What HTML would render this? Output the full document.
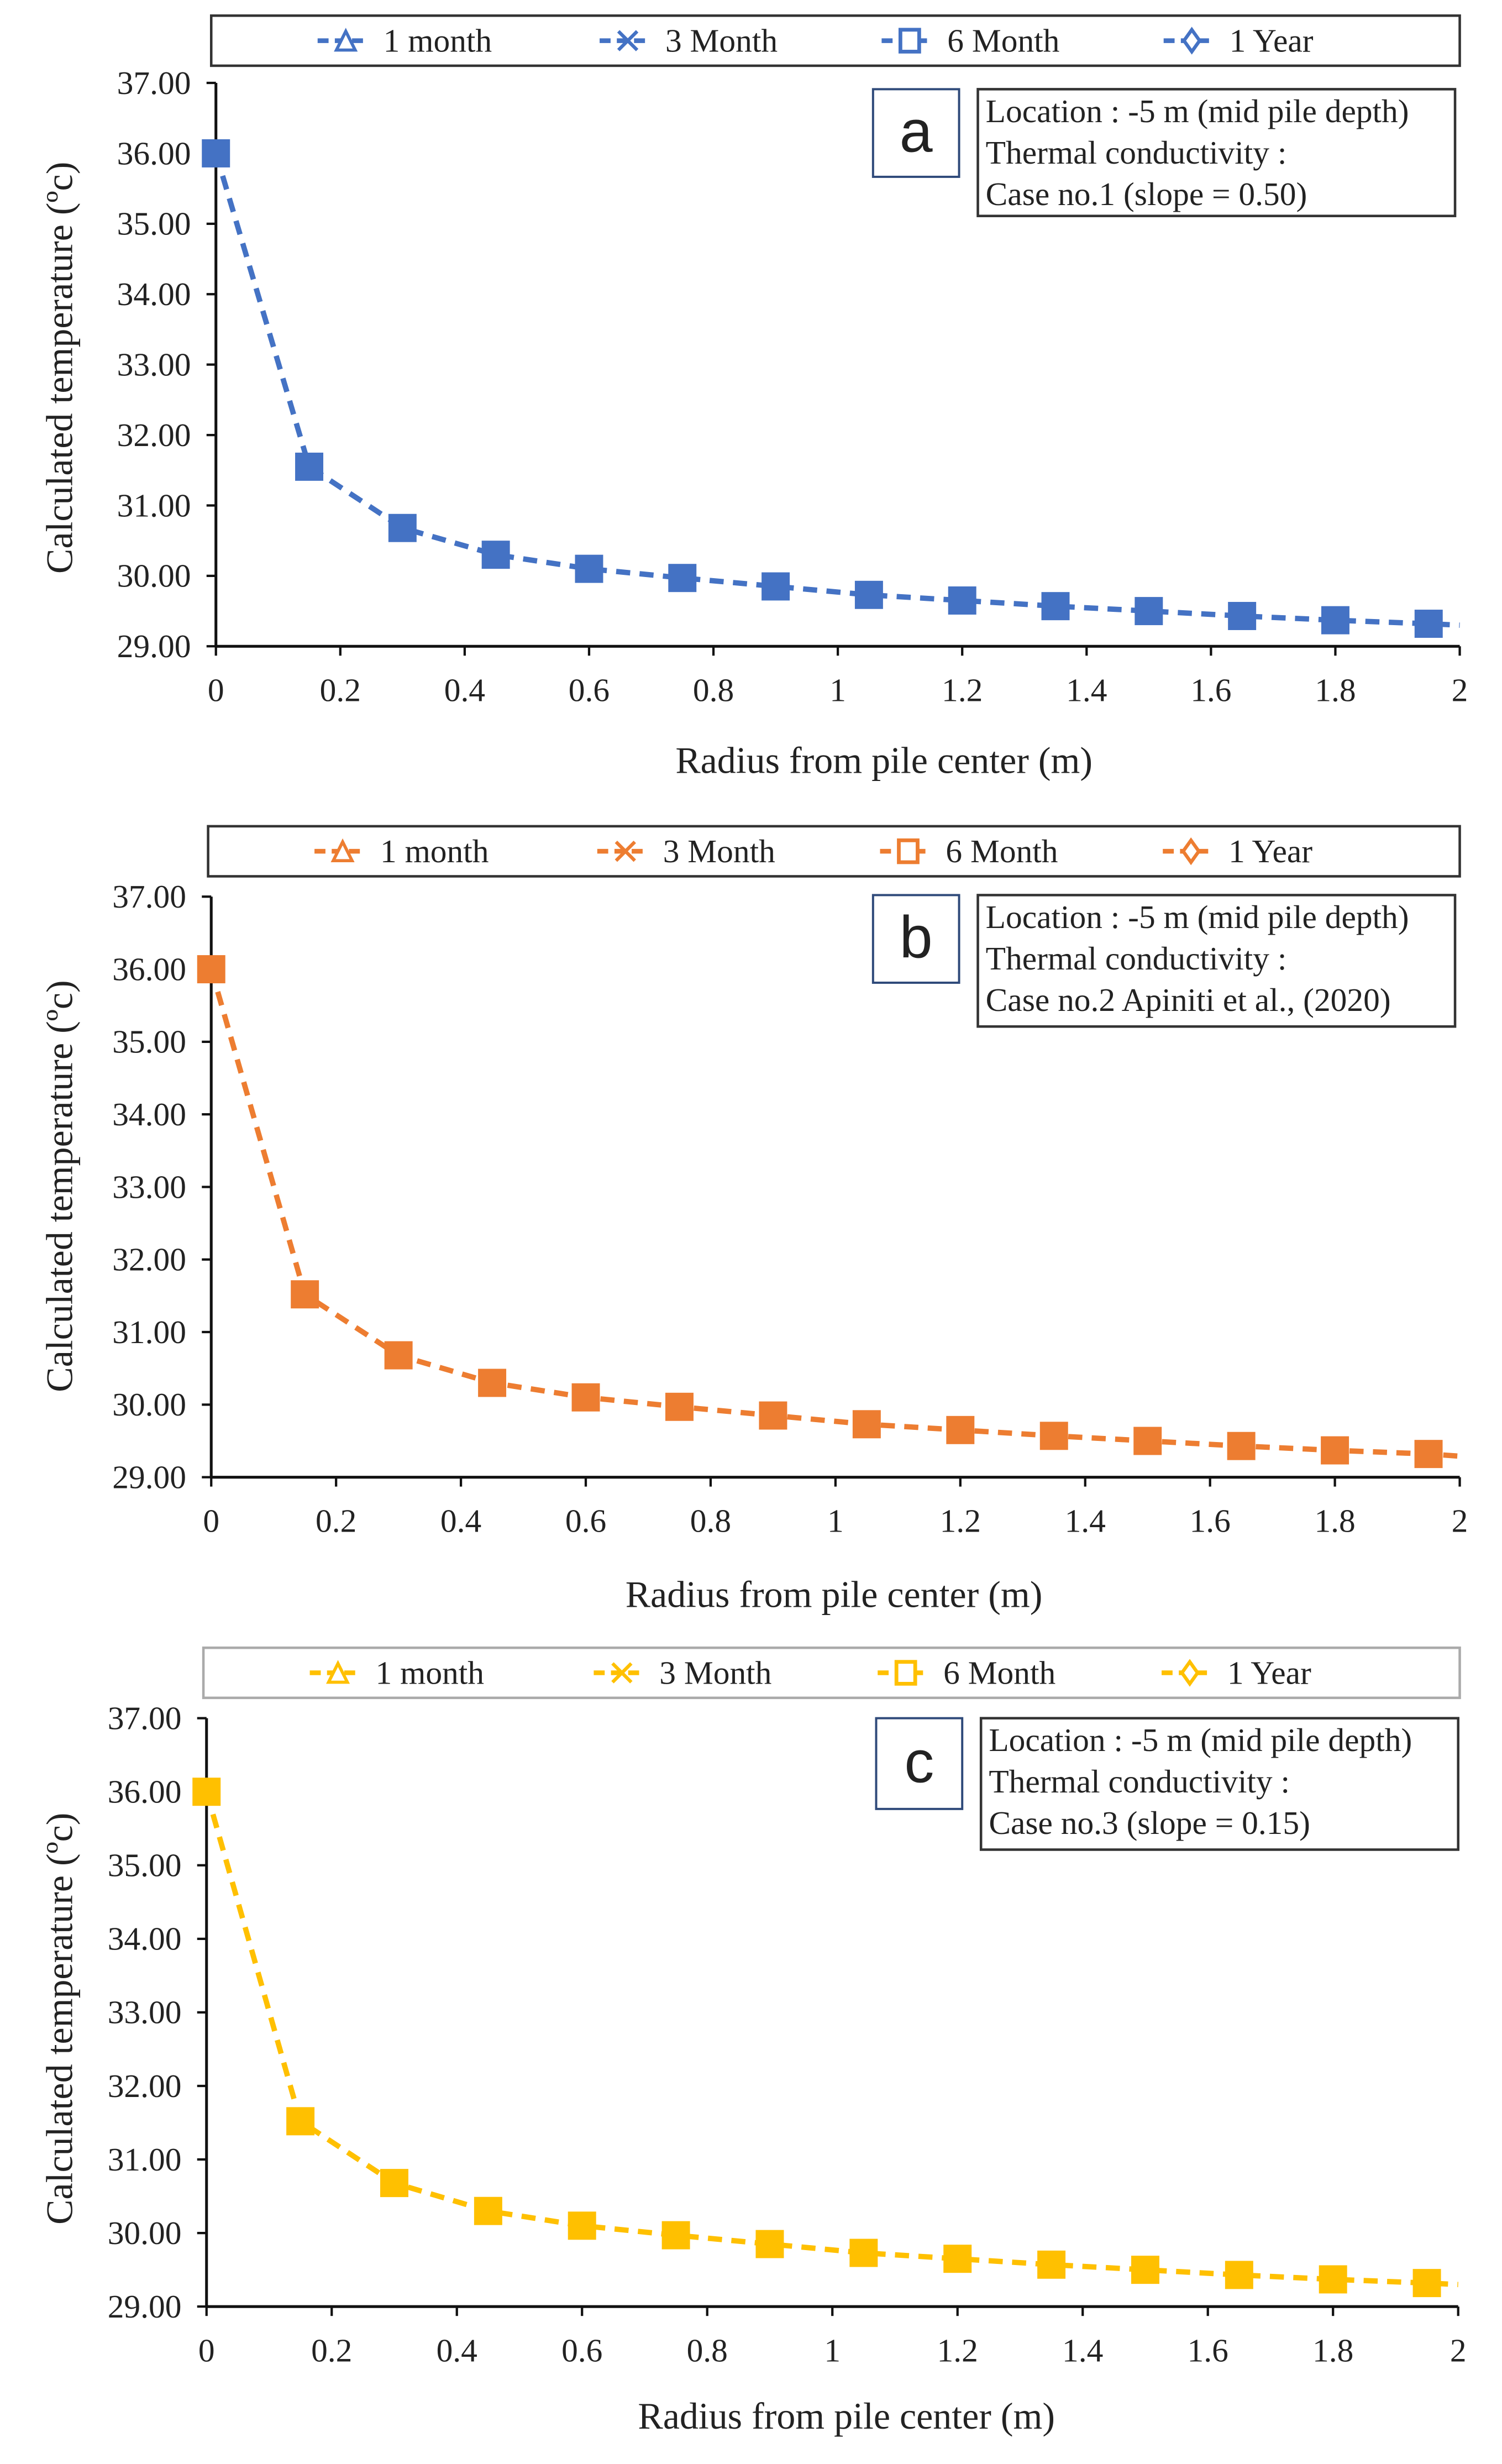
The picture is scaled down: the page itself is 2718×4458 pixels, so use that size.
<!DOCTYPE html>
<html><head><meta charset="utf-8"><style>
html,body{margin:0;padding:0;background:#fff;}
svg{display:block;}
text{font-family:"Liberation Serif",serif;fill:#222;}
</style></head><body>
<svg id="fig" width="2718" height="4458" viewBox="0 0 960 1574.6" xmlns="http://www.w3.org/2000/svg"></svg>
<script>
const radius = [0, 0.15, 0.3, 0.45, 0.6, 0.75, 0.9, 1.05, 1.2, 1.35, 1.5, 1.65, 1.8, 1.95, 2.0];
const tempA = [36.00, 31.55, 30.68, 30.30, 30.10, 29.97, 29.85, 29.73, 29.65, 29.57, 29.50, 29.43, 29.37, 29.32, 29.30];
const tempB = [36.00, 31.52, 30.68, 30.30, 30.10, 29.97, 29.85, 29.73, 29.65, 29.57, 29.50, 29.43, 29.37, 29.32, 29.29];
const tempC = [36.00, 31.52, 30.68, 30.30, 30.10, 29.97, 29.85, 29.73, 29.65, 29.57, 29.50, 29.43, 29.37, 29.32, 29.30];
const yTicks = [29, 30, 31, 32, 33, 34, 35, 36, 37];
const xTicks = [0, 0.2, 0.4, 0.6, 0.8, 1, 1.2, 1.4, 1.6, 1.8, 2];
const legendLabels = ["1 month", "3 Month", "6 Month", "1 Year"];

const NS = "http://www.w3.org/2000/svg";
const fig = document.getElementById("fig");
function mk(tag, attrs, parent){const e=document.createElementNS(NS,tag);for(const k in attrs)e.setAttribute(k,attrs[k]);(parent||fig).appendChild(e);return e;}

const panels = [
 {id:"a",color:"#4472C4",data:tempA,leg:[135,10,933,42],legStroke:"#333",L:138,R:933,T:53,B:413,xl:441,xt:486,xtc:565,yt:38,ytc:235,lab:[558,57,613,113],info:[625,57,930,138],caseText:"Case no.1 (slope = 0.50)"},
 {id:"b",color:"#ED7D31",data:tempB,leg:[133,528,933,560],legStroke:"#333",L:135,R:933,T:573,B:944,xl:972,xt:1019,xtc:533,yt:38,ytc:758,lab:[558,572,613,628],info:[625,572,930,656],caseText:"Case no.2 Apiniti et al., (2020)"},
 {id:"c",color:"#FFC000",data:tempC,leg:[130,1053,933,1085],legStroke:"#aaa",L:132,R:932,T:1098,B:1474,xl:1502,xt:1544,xtc:541,yt:38,ytc:1290,lab:[560,1098,615,1156],info:[627,1098,932,1182],caseText:"Case no.3 (slope = 0.15)"}
];

panels.forEach(p=>{
  const g = mk("g",{});
  
  
  const xs = v => p.L + (v/2)*(p.R-p.L);
  const ys = v => p.B - (v-29)/8*(p.B-p.T);
  const lg = mk("g",{},g);
  
  
  mk("rect",{x:p.leg[0],y:p.leg[1],width:p.leg[2]-p.leg[0],height:p.leg[3]-p.leg[1],fill:"#fff",stroke:p.legStroke,"stroke-width":1.6},lg);
  const lx0 = p.leg[0]+68, step=(p.leg[2]-p.leg[0]-68)/4.05, cy=(p.leg[1]+p.leg[3])/2;
  legendLabels.forEach((t,i)=>{
    const e = mk("g",{},lg);
    
    
    const x=lx0+i*step;
    mk("line",{x1:x,y1:cy,x2:x+30,y2:cy,stroke:p.color,"stroke-width":3,"stroke-dasharray":"7,4"},e);
    const c=x+18;
    if(i===0) mk("path",{d:`M${c-6},${cy+6}L${c},${cy-6}L${c+6},${cy+6}Z`,fill:"#fff",stroke:p.color,"stroke-width":2},e);
    if(i===1) mk("path",{d:`M${c-6},${cy-6}L${c+6},${cy+6}M${c-6},${cy+6}L${c+6},${cy-6}`,stroke:p.color,"stroke-width":2.2},e);
    if(i===2) mk("rect",{x:c-6,y:cy-7,width:12,height:14,fill:"#fff",stroke:p.color,"stroke-width":2.4},e);
    if(i===3) mk("path",{d:`M${c},${cy-7}L${c+5},${cy}L${c},${cy+7}L${c-5},${cy}Z`,fill:"#fff",stroke:p.color,"stroke-width":2.2},e);
    const tx=mk("text",{x:x+42,y:cy+7,"font-size":21},e); tx.textContent=t;
  });
  const ax = mk("g",{},g);
  
  
  mk("line",{x1:p.L,y1:p.T,x2:p.L,y2:p.B,stroke:"#111","stroke-width":1.8},ax);
  mk("line",{x1:p.L,y1:p.B,x2:p.R,y2:p.B,stroke:"#111","stroke-width":1.8},ax);
  yTicks.forEach(v=>{
    const y=ys(v);
    mk("line",{x1:p.L-6,y1:y,x2:p.L,y2:y,stroke:"#111","stroke-width":1.5},ax);
    const t=mk("text",{x:p.L-16,y:y+7,"font-size":21,"text-anchor":"end"},ax);
    
    
    t.textContent=v.toFixed(2);
  });
  xTicks.forEach(v=>{
    const x=xs(v);
    mk("line",{x1:x,y1:p.B,x2:x,y2:p.B+6,stroke:"#111","stroke-width":1.5},ax);
    const t=mk("text",{x:x,y:p.xl+7,"font-size":21,"text-anchor":"middle"},ax);
    
    
    t.textContent=String(v);
  });
  const xt=mk("text",{x:p.xtc,y:p.xt+8,"font-size":24,"text-anchor":"middle"},g);
  
  
  xt.textContent="Radius from pile center (m)";
  const yt=mk("text",{x:0,y:0,"font-size":24,"text-anchor":"middle",transform:`translate(${p.yt+8},${p.ytc}) rotate(-90)`},g);
  
  
  yt.textContent="Calculated temperature (\u00BAc)";
  const pts = radius.map((r,i)=>xs(r)+","+ys(p.data[i])).join(" ");
  const ln=mk("polyline",{points:pts,fill:"none",stroke:p.color,"stroke-width":3.4,"stroke-dasharray":"9,6"},g);
  
  
  radius.forEach((r,i)=>{
    if(r>=2) return;
    const m=mk("rect",{x:xs(r)-9,y:ys(p.data[i])-9,width:18,height:18,fill:p.color},g);
    
    
  });
  const lb=mk("g",{},g);
  
  
  mk("rect",{x:p.lab[0],y:p.lab[1],width:p.lab[2]-p.lab[0],height:p.lab[3]-p.lab[1],fill:"#fff",stroke:"#2F4A7A","stroke-width":1.4},lb);
  const lt=mk("text",{x:(p.lab[0]+p.lab[2])/2,y:(p.lab[1]+p.lab[3])/2+12,"font-size":38,"text-anchor":"middle"},lb);
  lt.style.fontFamily='"Liberation Sans",sans-serif';
  lt.textContent=p.id;
  const ib=mk("g",{},g);
  
  
  mk("rect",{x:p.info[0],y:p.info[1],width:p.info[2]-p.info[0],height:p.info[3]-p.info[1],fill:"#fff",stroke:"#333","stroke-width":1.6},ib);
  ["Location : -5 m (mid pile depth)","Thermal conductivity :",p.caseText].forEach((s,i)=>{
    const t=mk("text",{x:p.info[0]+5,y:p.info[1]+21+i*26.5,"font-size":21},ib);
    t.textContent=s;
  });
});
</script>
</body></html>
